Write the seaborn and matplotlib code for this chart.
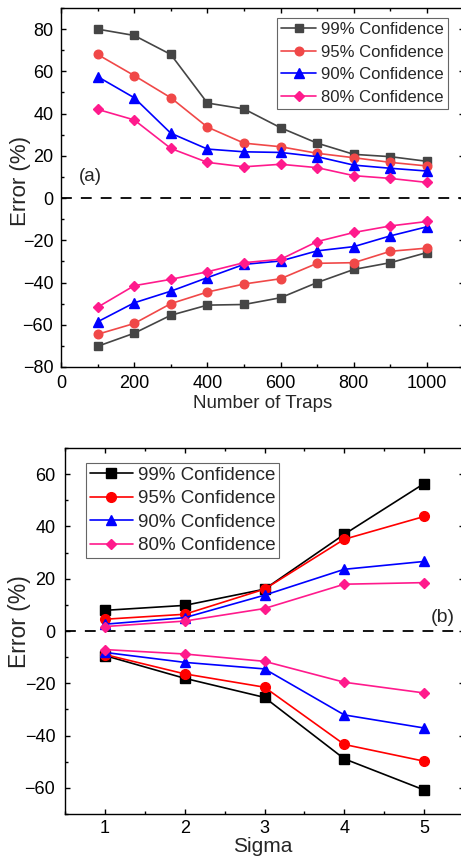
import numpy as np
import pandas as pd
import matplotlib
matplotlib.use("Agg")
import matplotlib.pyplot as plt
import seaborn as sns
from matplotlib.ticker import MultipleLocator

sns.set_theme(style="ticks")
plt.rcParams['font.family'] = ['Liberation Sans', 'DejaVu Sans']

# ---------------- data ----------------
labels = ["99% Confidence", "95% Confidence", "90% Confidence", "80% Confidence"]

traps = [100, 200, 300, 400, 500, 600, 700, 800, 900, 1000]
a_upper_99 = [80, 77, 68, 45, 42.2, 33.3, 26, 20.7, 19.6, 17.4]
a_upper_95 = [68, 58, 47.5, 33.6, 26, 24.3, 21.2, 19.1, 16.9, 15.2]
a_upper_90 = [57.5, 47.5, 30.7, 23.2, 21.9, 21.6, 19.6, 15.6, 14.1, 12.8]
a_upper_80 = [42, 37, 23.5, 16.9, 14.8, 16, 14.4, 10.6, 9.3, 7.4]
a_lower_99 = [-70.2, -64, -55.5, -50.7, -50.4, -47.2, -40, -33.8, -30.6, -25.8]
a_lower_95 = [-64.5, -59.4, -50, -44.5, -40.7, -38.2, -30.9, -30.6, -25.2, -23.7]
a_lower_90 = [-58.6, -49.6, -44.1, -37.7, -31.4, -29.8, -25, -23, -17.9, -13.6]
a_lower_80 = [-51.7, -41.5, -38.5, -34.9, -30.6, -29, -20.6, -16.3, -13.2, -11.1]

sigma = [1, 2, 3, 4, 5]
b_upper_99 = [7.9, 9.8, 16, 37, 56.4]
b_upper_95 = [4.5, 6.4, 16, 35.1, 43.8]
b_upper_90 = [2.6, 5.1, 13.7, 23.6, 26.6]
b_upper_80 = [1.7, 3.8, 8.6, 17.9, 18.5]
b_lower_99 = [-9.4, -18.1, -25.4, -48.9, -60.8]
b_lower_95 = [-9.0, -16.4, -21.5, -43.4, -49.8]
b_lower_90 = [-8.2, -12, -14.5, -32.1, -37.1]
b_lower_80 = [-7.1, -8.8, -11.6, -19.6, -23.7]

markers = ["s", "o", "^", "D"]
msizes_a = [6.0, 6.2, 7.0, 4.8]
msizes_b = [7.0, 7.0, 7.8, 5.2]
colors_a = ["#454545", "#f04848", "#0000ff", "#ff1a8c"]
colors_b = ["#000000", "#ff0000", "#0000ff", "#ff1a8c"]

fig = plt.figure(figsize=(4.61, 8.57), dpi=100)
ax1 = fig.add_axes([61/461, 1-367/857, 402.6/461, 359/857])
ax2 = fig.add_axes([65/461, 1-814/857, 399/461, 366/857])

def draw(ax, x, uppers, lowers, colors, msizes):
    for i in range(4):
        for j, ys in enumerate((uppers[i], lowers[i])):
            sns.lineplot(x=x, y=ys, ax=ax, color=colors[i], marker=markers[i],
                         markersize=msizes[i], markeredgecolor=colors[i],
                         markeredgewidth=1.0,
                         linewidth=1.2, label=labels[i] if j == 0 else None,
                         legend=False)
    ax.axhline(0, color="black", linestyle=(0, (6, 5)), linewidth=1.3, zorder=0)

draw(ax1, traps,
     [a_upper_99, a_upper_95, a_upper_90, a_upper_80],
     [a_lower_99, a_lower_95, a_lower_90, a_lower_80], colors_a, msizes_a)
draw(ax2, sigma,
     [b_upper_99, b_upper_95, b_upper_90, b_upper_80],
     [b_lower_99, b_lower_95, b_lower_90, b_lower_80], colors_b, msizes_b)

ax1.set_xlim(0, 1100)
ax1.set_ylim(-80, 90)
ax1.xaxis.set_major_locator(MultipleLocator(200))
ax1.xaxis.set_minor_locator(MultipleLocator(100))
ax1.yaxis.set_major_locator(MultipleLocator(20))
ax1.yaxis.set_minor_locator(MultipleLocator(10))
ax1.set_xlabel("Number of Traps", fontsize=13.5, va="baseline")
ax1.set_ylabel("Error (%)", fontsize=16, va="center")
ax1.xaxis.set_label_coords(0.5, -0.1134)
ax1.yaxis.set_label_coords(-0.1006, 0.517)
ax1.text(50, 10, "(a)", fontsize=13.5, ha="left", va="center")

ax2.set_xlim(0.5, 5.5)
ax2.set_ylim(-70, 70)
ax2.xaxis.set_major_locator(MultipleLocator(1))
ax2.xaxis.set_minor_locator(MultipleLocator(0.5))
ax2.yaxis.set_major_locator(MultipleLocator(20))
ax2.yaxis.set_minor_locator(MultipleLocator(10))
ax2.set_xlabel("Sigma", fontsize=15, va="baseline")
ax2.set_ylabel("Error (%)", fontsize=16.5, va="center")
ax2.xaxis.set_label_coords(0.496, -0.103)
ax2.yaxis.set_label_coords(-0.1128, 0.5246)
ax2.text(5.08, 5, "(b)", fontsize=14, ha="left", va="center")

for ax in (ax1, ax2):
    for s in ax.spines.values():
        s.set_visible(True)
        s.set_color("black")
        s.set_linewidth(1.0)
    ax.tick_params(which="both", direction="in", top=True, right=True,
                   labelsize=13, colors="black")
    ax.tick_params(which="major", length=3.8, width=1)
    ax.tick_params(which="minor", length=2.2, width=1)
    ax.grid(False)

ax1.tick_params(axis="both", which="both", pad=5.5)
ax2.tick_params(axis="x", which="both", pad=4.5)
ax2.tick_params(axis="y", which="both", pad=7)

l1 = ax1.legend(loc="upper left", bbox_to_anchor=((277-61)/402.6, (367-18)/359),
                fontsize=12, frameon=True, fancybox=False, framealpha=1,
                edgecolor="#666666", borderaxespad=0, handlelength=2.1,
                handletextpad=0.3, labelspacing=0.45, borderpad=0.25)
l2 = ax2.legend(loc="upper left", bbox_to_anchor=((86-65)/399, (814-463)/366),
                fontsize=13.5, frameon=True, fancybox=False, framealpha=1,
                edgecolor="#666666", borderaxespad=0, handlelength=2.3,
                handletextpad=0.25, labelspacing=0.34, borderpad=0.2)
for l in (l1, l2):
    l.get_frame().set_linewidth(0.8)

fig.savefig("out.png", dpi=100)
